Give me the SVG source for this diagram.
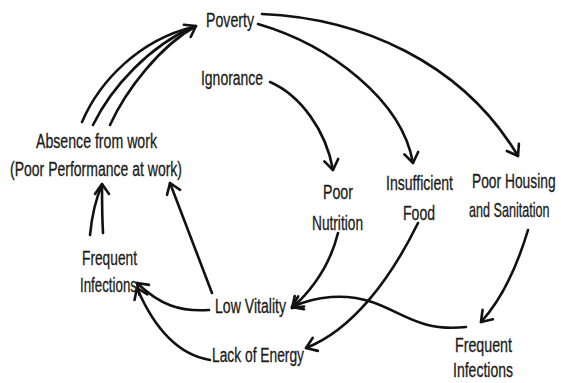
<svg xmlns="http://www.w3.org/2000/svg" width="561" height="383" viewBox="0 0 561 383">
  <style>
    .lbl { font-family: "Liberation Sans", Arial, sans-serif; font-size: 20px; fill: #1a1a1a; stroke: #1a1a1a; stroke-width: 0.3; }
    .edge { fill: none; stroke: #111; stroke-width: 2.6; stroke-linecap: round; marker-end: url(#head); }
    .edge-plain { fill: none; stroke: #111; stroke-width: 2.6; stroke-linecap: round; }
  </style>
  <defs>
    <marker id="head" viewBox="-14 -9 16 18" markerWidth="16" markerHeight="18" refX="0" refY="0" orient="auto" markerUnits="userSpaceOnUse" overflow="visible">
      <path d="M-10,-7 L0,0 L-10,7" fill="none" stroke="#111" stroke-width="2.6" stroke-linecap="round" stroke-linejoin="round"/>
    </marker>
  </defs>
  <rect width="561" height="383" fill="#ffffff"/>

  <g id="connectors">
    <!-- absence from work feeds back into poverty -->
    <path class="edge-plain" d="M82,122 C100,80 140,40 193,27"/>
    <path class="edge-plain" d="M93,125 C112,86 150,46 193,27"/>
    <path class="edge" d="M110,125 C126,90 160,46 196,26"/>
    <!-- poverty outcomes -->
    <path class="edge" d="M262,14 C360,18 462,62 518,156"/>
    <path class="edge" d="M258,24 C330,45 402,100 413,163"/>
    <path class="edge" d="M270,82 C300,95 326,130 333,170"/>
    <!-- into low vitality / lack of energy -->
    <path class="edge" d="M338,233 C330,265 312,290 292,308"/>
    <path class="edge" d="M418,223 C390,280 352,330 306,348"/>
    <path class="edge" d="M528,230 C516,270 501,300 481,322"/>
    <path class="edge" d="M466,327 C420,332 402,312 372,302 C345,293 316,296 292,307"/>
    <!-- left side loop -->
    <path class="edge" d="M212,293 L170,183"/>
    <path class="edge" d="M209,310 C180,312 160,305 137,283"/>
    <path class="edge" d="M210,360 C180,355 155,330 137,288"/>
    <path class="edge-plain" d="M90,235 C92,215 97,196 102,185"/>
    <path class="edge" d="M103,233 C102,215 102,198 102,184"/>
  </g>

  <g id="poverty"><text class="lbl" x="206" y="27" textLength="48" lengthAdjust="spacingAndGlyphs">Poverty</text></g>
  <g id="ignorance"><text class="lbl" x="201" y="85" textLength="62" lengthAdjust="spacingAndGlyphs">Ignorance</text></g>
  <g id="absence">
    <text class="lbl" x="36" y="148" textLength="121" lengthAdjust="spacingAndGlyphs">Absence from work</text>
    <text class="lbl" x="10" y="176" textLength="172" lengthAdjust="spacingAndGlyphs">(Poor Performance at work)</text>
  </g>
  <g id="poor-nutrition">
    <text class="lbl" x="323" y="199" textLength="30" lengthAdjust="spacingAndGlyphs">Poor</text>
    <text class="lbl" x="312" y="230" textLength="51" lengthAdjust="spacingAndGlyphs">Nutrition</text>
  </g>
  <g id="insufficient-food">
    <text class="lbl" x="386" y="190" textLength="67" lengthAdjust="spacingAndGlyphs">Insufficient</text>
    <text class="lbl" x="403" y="220" textLength="32" lengthAdjust="spacingAndGlyphs">Food</text>
  </g>
  <g id="poor-housing">
    <text class="lbl" transform="translate(472,188) scale(0.69,1)">Poor Housing</text>
    <text class="lbl" transform="translate(469,217) scale(0.63,1)">and Sanitation</text>
  </g>
  <g id="frequent-infections-left">
    <text class="lbl" x="82" y="265" textLength="55" lengthAdjust="spacingAndGlyphs">Frequent</text>
    <text class="lbl" x="80" y="292" textLength="57" lengthAdjust="spacingAndGlyphs">Infections</text>
  </g>
  <g id="low-vitality"><text class="lbl" x="215" y="313" textLength="71" lengthAdjust="spacingAndGlyphs">Low Vitality</text></g>
  <g id="lack-of-energy"><text class="lbl" x="212" y="362" textLength="92" lengthAdjust="spacingAndGlyphs">Lack of Energy</text></g>
  <g id="frequent-infections-right">
    <text class="lbl" x="455" y="352" textLength="57" lengthAdjust="spacingAndGlyphs">Frequent</text>
    <text class="lbl" x="453" y="377" textLength="60" lengthAdjust="spacingAndGlyphs">Infections</text>
  </g>
</svg>
